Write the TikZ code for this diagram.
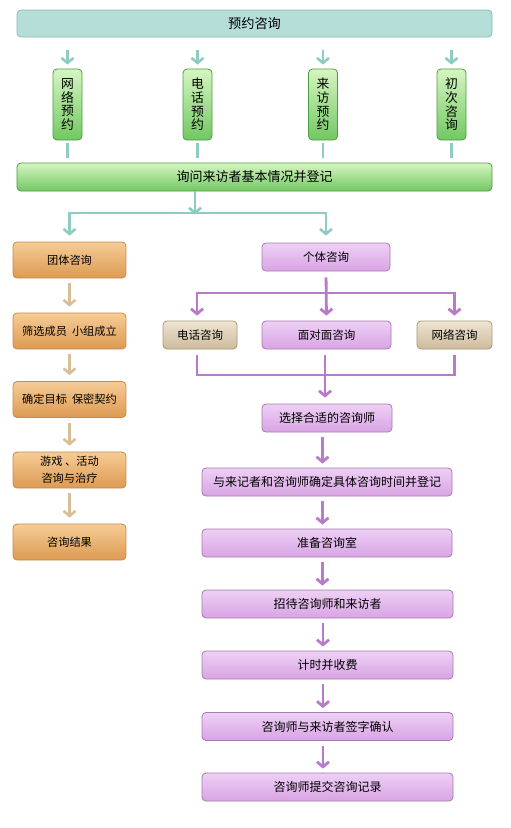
\documentclass[tikz,border=0pt]{standalone}
\usepackage{fontspec}
\setmainfont{Noto Sans CJK SC}
\usetikzlibrary{arrows.meta,calc}
\definecolor{tealF}{HTML}{B4DED7}
\definecolor{tealB}{HTML}{86BDB4}
\definecolor{tealL}{HTML}{8ECBC3}
\definecolor{greenT}{HTML}{D6F5C2}
\definecolor{greenD}{HTML}{72C862}
\definecolor{greenB}{HTML}{4A9E42}
\definecolor{orT}{HTML}{F6CC96}
\definecolor{orD}{HTML}{DC9A52}
\definecolor{orB}{HTML}{C88A4C}
\definecolor{orL}{HTML}{D6BE96}
\definecolor{puT}{HTML}{EED0F5}
\definecolor{puD}{HTML}{D8A4E4}
\definecolor{puB}{HTML}{A67AB2}
\definecolor{puL}{HTML}{B87ACA}
\definecolor{taT}{HTML}{EEE4D2}
\definecolor{taD}{HTML}{CDBB9C}
\definecolor{taB}{HTML}{A89878}
\begin{document}
\begin{tikzpicture}[x=1pt,y=-1pt,
  box/.style={draw, line width=0.8pt, rounded corners=4pt, inner sep=0pt, text=black, font=\fontsize{12}{14}\selectfont},
  tealbox/.style={box, draw=tealB, fill=tealF, font=\fontsize{13.2}{15}\selectfont},
  greenbox/.style={box, draw=greenB, top color=greenT, bottom color=greenD},
  vbox/.style={greenbox, minimum width=29, minimum height=71, align=center, font=\fontsize{12.8}{13.6}\selectfont},
  orbox/.style={box, draw=orB, top color=orT, bottom color=orD, minimum width=113, minimum height=36, align=center, font=\fontsize{11.2}{17}\selectfont},
  pubox/.style={box, draw=puB, top color=puT, bottom color=puD, minimum height=28},
  tabox/.style={box, draw=taB, top color=taT, bottom color=taD, minimum height=28, font=\fontsize{11.5}{14}\selectfont},
  tline/.style={draw=tealL, line width=2.6pt},
  tarrow/.style={tline, -{Straight Barb[length=5pt,width=12pt]}},
  oline/.style={draw=orL, line width=2.6pt},
  oarrow/.style={oline, -{Straight Barb[length=5pt,width=12pt]}},
  pline/.style={draw=puL, line width=2.8pt},
  parrow/.style={pline, -{Straight Barb[length=5pt,width=12pt]}}
]
\useasboundingbox (0,0) rectangle (511,828);
\fill[white] (0,0) rectangle (511,828);

% top
\node[tealbox, minimum width=475, minimum height=27] (top) at (254.5,23.5) {预约咨询};
\node[vbox] (v1) at (67.5,104.5) {网\\络\\预\\约};
\node[vbox] (v2) at (197.5,104.5) {电\\话\\预\\约};
\node[vbox] (v3) at (323,104.5) {来\\访\\预\\约};
\node[vbox] (v4) at (451.5,104.5) {初\\次\\咨\\询};
\node[greenbox, minimum width=475, minimum height=28, font=\fontsize{13}{15}\selectfont] (reg) at (254.5,177) {询问来访者基本情况并登记};

\foreach \v in {v1,v2,v3,v4}{
  \draw[tarrow, shorten <=13pt, shorten >=4pt] (top.south -| \v.north) -- (\v.north);
  \draw[tline, shorten <=3pt, shorten >=5pt] (\v.south) -- (\v.south |- reg.north);
}

% left column
\node[orbox] (g1) at (69.5,260) {团体咨询};
\node[orbox] (g2) at (69.5,331) {筛选成员\ \ 小组成立};
\node[orbox] (g3) at (69.5,399.5) {确定目标\ \ 保密契约};
\node[orbox] (g4) at (69.5,470) {游戏\ 、活动\\咨询与治疗};
\node[orbox] (g5) at (69.5,542) {咨询结果};

% right column
\node[pubox, minimum width=128, font=\fontsize{11.5}{14}\selectfont] (i1) at (326,257) {个体咨询};
\node[tabox, minimum width=74] (f1) at (200,335) {电话咨询};
\node[pubox, minimum width=129, font=\fontsize{11.5}{14}\selectfont] (f2) at (326.5,335) {面对面咨询};
\node[tabox, minimum width=75] (f3) at (454.5,335) {网络咨询};
\node[pubox, minimum width=130] (s1) at (327,418) {选择合适的咨询师};
\node[pubox, minimum width=250] (s2) at (327,482) {与来记者和咨询师确定具体咨询时间并登记};
\node[pubox, minimum width=250] (s3) at (327,543) {准备咨询室};
\node[pubox, minimum width=251] (s4) at (327.5,604) {招待咨询师和来访者};
\node[pubox, minimum width=251] (s5) at (327.5,665) {计时并收费};
\node[pubox, minimum width=251] (s6) at (327.5,726.5) {咨询师与来访者签字确认};
\node[pubox, minimum width=251] (s7) at (327.5,787) {咨询师提交咨询记录};

% split after registration
\coordinate (jt) at (195,213);
\draw[tarrow] (reg.south -| jt) -- ([yshift=-1.5]jt);
\draw[tarrow, shorten >=6pt] (jt) -| (g1.north);
\draw[tarrow, shorten >=7pt] (jt) -| (i1.north);

% left arrows
\foreach \a/\b in {g1/g2,g2/g3,g3/g4,g4/g5}{
  \draw[oarrow, shorten <=5pt, shorten >=6pt] (\a.south) -- (\b.north);
}

% individual split
\coordinate (pj) at (326,293);
\draw[parrow, shorten <=6pt, shorten >=5pt] (i1.south) -- (f2.north);
\draw[parrow, shorten >=5pt] (pj) -| ([xshift=-3]f1.north);
\draw[parrow, shorten >=5pt] (pj) -| (f3.north);

% merge
\coordinate (pm) at (325,375);
\draw[pline, shorten <=6pt] ([xshift=-3]f1.south) |- (pm);
\draw[pline, shorten <=6pt] (f3.south) |- (pm);
\draw[pline, shorten <=6pt] ([xshift=-1.5]f2.south) -- ([xshift=-1.5]f2.south |- pm);
\draw[parrow, shorten >=6pt] (pm) -- (pm |- s1.north);

% right arrows
\foreach \a/\b in {s1/s2,s2/s3,s3/s4,s4/s5,s5/s6,s6/s7}{
  \draw[parrow, shorten <=5pt, shorten >=4pt] ([xshift=-4.5]\a.south) -- ([xshift=-4.5]\a.south |- \b.north);
}
\end{tikzpicture}
\end{document}
